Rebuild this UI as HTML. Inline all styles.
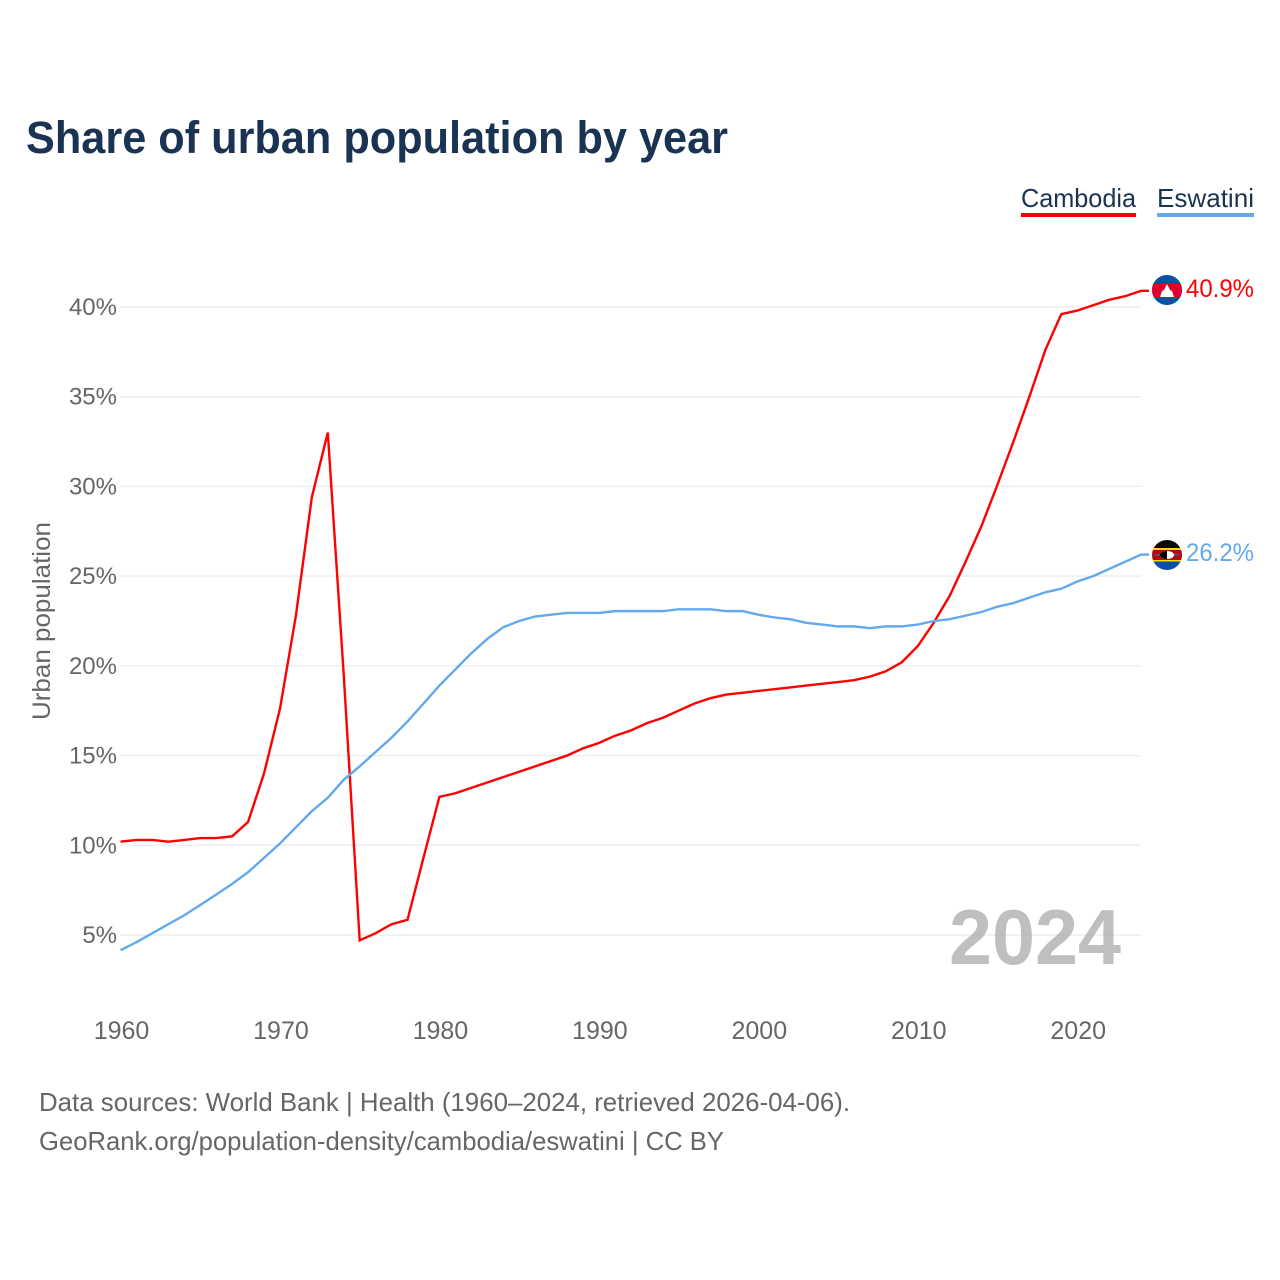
<!DOCTYPE html>
<html lang="en">
<head>
<meta charset="utf-8">
<title>Share of urban population by year</title>
<style>
html,body{margin:0;padding:0;background:#fff}
svg{display:block}
text{font-family:"Liberation Sans",sans-serif}
</style>
</head>
<body>
<svg id="chart" width="1280" height="1280" viewBox="0 0 1280 1280" xmlns="http://www.w3.org/2000/svg">
  <defs>
    <clipPath id="clip-kh"><circle cx="1167" cy="290" r="15"/></clipPath>
    <clipPath id="clip-sz"><circle cx="1167" cy="555" r="15"/></clipPath>
  </defs>
  <rect width="1280" height="1280" fill="#fff"/>
  <text x="26" y="153" font-size="45" font-weight="700" fill="#1a3353" textLength="702" lengthAdjust="spacingAndGlyphs">Share of urban population by year</text>

  <g>
    <text x="1021" y="207" font-size="26" fill="#1a3353" textLength="115" lengthAdjust="spacingAndGlyphs">Cambodia</text>
    <rect x="1021" y="213" width="115" height="4" fill="#ff0000"/>
  </g>
  <g>
    <text x="1157" y="207" font-size="26" fill="#1a3353" textLength="97" lengthAdjust="spacingAndGlyphs">Eswatini</text>
    <rect x="1157" y="213" width="97" height="4" fill="#63a9ee"/>
  </g>

  <g id="grid"></g>
  <g id="yticks"></g>
  <g id="xticks"></g>
  <text transform="translate(50,621) rotate(-90)" text-anchor="middle" font-size="25" fill="#666" textLength="198" lengthAdjust="spacingAndGlyphs">Urban population</text>

  <g id="series"></g>

  <text x="949" y="964" font-size="78" font-weight="700" fill="#a6a6a6" fill-opacity="0.72" textLength="172" lengthAdjust="spacingAndGlyphs">2024</text>

  <g clip-path="url(#clip-kh)">
    <rect x="1152" y="275" width="30" height="30" fill="#0a4fa8"/>
    <rect x="1152" y="283" width="30" height="15" fill="#e0002d"/>
    <polygon points="1160,297 1162,291 1164,290 1167,284 1170,290 1172,291 1174,297" fill="#fff"/>
  </g>
  <text id="value-kh" x="1186" y="297" font-size="25" fill="#ff0000" textLength="68" lengthAdjust="spacingAndGlyphs">40.9%</text>

  <g clip-path="url(#clip-sz)">
    <rect x="1152" y="540" width="30" height="9" fill="#0a0a0a"/>
    <rect x="1152" y="548" width="30" height="2" fill="#ffd900"/>
    <rect x="1152" y="550" width="30" height="10" fill="#b10c0c"/>
    <rect x="1152" y="560" width="30" height="1.5" fill="#ffd900"/>
    <rect x="1152" y="561.5" width="30" height="9" fill="#0a4fa8"/>
    <rect x="1155" y="554" width="24" height="1.5" fill="#3e5eb9"/>
    <ellipse cx="1167" cy="555" rx="7" ry="4" fill="#fff"/>
    <path d="M1167 551 A7 4 0 0 0 1167 559 Z" fill="#000"/>
  </g>
  <text id="value-sz" x="1186" y="561" font-size="25" fill="#63a9ee" textLength="68" lengthAdjust="spacingAndGlyphs">26.2%</text>

  <text x="39" y="1111" font-size="26" fill="#666" textLength="811" lengthAdjust="spacingAndGlyphs">Data sources: World Bank | Health (1960–2024, retrieved 2026-04-06).</text>
  <text x="39" y="1150" font-size="26" fill="#666" textLength="685" lengthAdjust="spacingAndGlyphs">GeoRank.org/population-density/cambodia/eswatini | CC BY</text>
</svg>
<script>
const startYear = 1960;
const cambodiaValues = [10.2,10.3,10.3,10.2,10.3,10.4,10.4,10.5,11.3,14.0,17.6,22.8,29.4,33.0,19.5,4.7,5.1,5.6,5.85,9.3,12.7,12.9,13.2,13.5,13.8,14.1,14.4,14.7,15.0,15.4,15.7,16.1,16.4,16.8,17.1,17.5,17.9,18.2,18.4,18.5,18.6,18.7,18.8,18.9,19.0,19.1,19.2,19.4,19.7,20.2,21.1,22.4,23.9,25.8,27.8,30.1,32.5,35.0,37.6,39.6,39.8,40.1,40.4,40.6,40.9];
const eswatiniValues = [4.15,4.6,5.1,5.6,6.1,6.67,7.25,7.85,8.5,9.3,10.1,11.0,11.9,12.65,13.65,14.4,15.2,16.0,16.9,17.9,18.9,19.8,20.7,21.5,22.15,22.5,22.75,22.85,22.95,22.95,22.95,23.05,23.05,23.05,23.05,23.15,23.15,23.15,23.05,23.05,22.85,22.7,22.6,22.4,22.3,22.2,22.2,22.1,22.2,22.2,22.3,22.5,22.6,22.8,23.0,23.3,23.5,23.8,24.1,24.3,24.7,25.0,25.4,25.8,26.2];
const yTickValues = [5,10,15,20,25,30,35,40];
const xTickValues = [1960,1970,1980,1990,2000,2010,2020];

const svgNS = 'http://www.w3.org/2000/svg';
function xScale(year){ return 120.5 + (year - 1960) * (1141 - 120.5) / 64; }
function yScale(value){ return 935 - (value - 5) * (935 - 307) / 35; }
function make(tag){ return document.createElementNS(svgNS, tag); }

const gridGroup = document.getElementById('grid');
const yTickGroup = document.getElementById('yticks');
const xTickGroup = document.getElementById('xticks');
const seriesGroup = document.getElementById('series');

yTickValues.forEach(function(v){
  const line = make('line');
  
  
  line.setAttribute('x1', 120);
  line.setAttribute('x2', 1141);
  line.setAttribute('y1', yScale(v));
  line.setAttribute('y2', yScale(v));
  line.setAttribute('stroke', '#eeeeee');
  line.setAttribute('stroke-width', 1.5);
  gridGroup.appendChild(line);

  const label = make('text');
  
  
  label.setAttribute('x', 117);
  label.setAttribute('y', yScale(v) + 8);
  label.setAttribute('text-anchor', 'end');
  label.setAttribute('font-size', 24);
  label.setAttribute('fill', '#666');
  label.textContent = v + '%';
  yTickGroup.appendChild(label);
});

xTickValues.forEach(function(y){
  const label = make('text');
  
  
  label.setAttribute('x', xScale(y) + 1);
  label.setAttribute('y', 1039);
  label.setAttribute('text-anchor', 'middle');
  label.setAttribute('font-size', 25);
  label.setAttribute('fill', '#666');
  label.textContent = y;
  xTickGroup.appendChild(label);
});

function drawSeries(values, color, name){
  const pts = values.map(function(v, i){
    return xScale(startYear + i).toFixed(2) + ',' + yScale(v).toFixed(2);
  });
  const last = values[values.length - 1];
  pts.push((xScale(startYear + values.length - 1) + 8).toFixed(2) + ',' + yScale(last).toFixed(2));
  const line = make('polyline');
  
  
  line.setAttribute('points', pts.join(' '));
  line.setAttribute('fill', 'none');
  line.setAttribute('stroke', color);
  line.setAttribute('stroke-width', 2.4);
  line.setAttribute('stroke-linejoin', 'miter');
  seriesGroup.appendChild(line);
}
drawSeries(cambodiaValues, '#ff0000', 'line-cambodia');
drawSeries(eswatiniValues, '#63a9ee', 'line-eswatini');
</script>
</body>
</html>
